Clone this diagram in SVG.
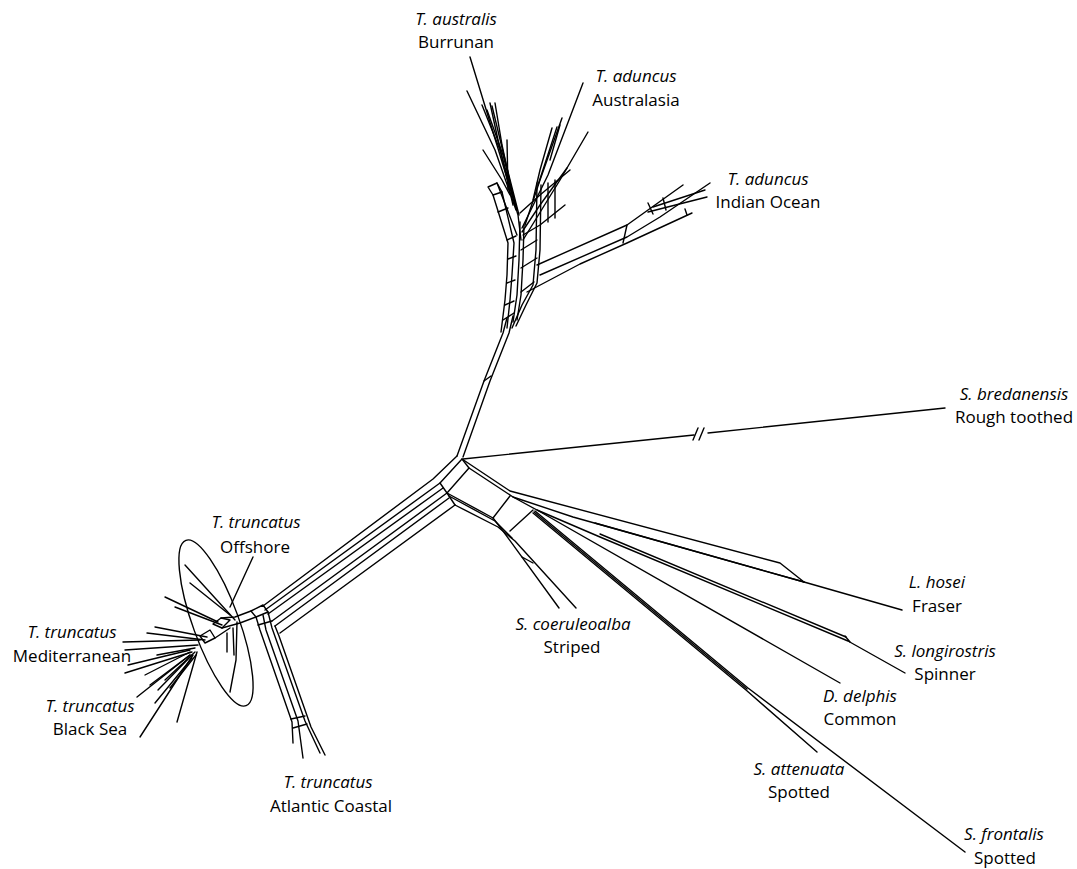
<svg xmlns="http://www.w3.org/2000/svg" width="1077" height="869" viewBox="0 0 1077 869">
<style>
.ln{fill:none;stroke:#000;stroke-width:1.4;stroke-linejoin:round;stroke-linecap:round}
.lb{font-family:"Open Sans","Liberation Sans",sans-serif;font-size:17px;fill:#000;text-anchor:middle}
.it{font-style:italic}
</style>
<rect width="1077" height="869" fill="#fff"/>
<g id="network" class="ln">
  <!-- trunk hub to upper fork -->
  <path d="M457,456 L484,381 L503,333 L507,318"/>
  <path d="M463,457 L490,381 L509,333 L513,316"/>
  <path d="M484,381 L491,376"/>
  <path d="M503,320 L514,313"/>
  <!-- left column -->
  <path d="M501,332 L505,300 L507,275 L508,243 L493,195"/>
  <path d="M507,328 L510,300 L512,275 L514,243 L502,192"/>
  <path d="M488,187 L497,183 L502,192 L493,195 Z"/>
  <path d="M505,305 L514,301 M507,283 L515,280 M508,259 L516,256 M507,240 L516,236 M498,212 L508,208"/>
  <!-- middle column -->
  <path d="M513,322 L517,295 L519,260 L520,222"/>
  <path d="M517,320 L521,295 L523,260 L524,225"/>
  <!-- right column -->
  <path d="M512,328 L522,305 L533,285 L536,250 L537,183"/>
  <path d="M516,326 L526,305 L537,283 L540,250 L541,185"/>
  <path d="M521,250 L537,240 M521,268 L537,258 M521,292 L534,282"/>
  <!-- Indian Ocean -->
  <path d="M537,265 L627,225 L683,185"/>
  <path d="M540,275 L627,237 L660,217 L710,183"/>
  <path d="M527,292 L580,264 L627,243 L692,213"/>
  <path d="M648,212 L707,197"/>
  <path d="M653,207 L705,190"/>
  <path d="M627,225 L623,243 M648,203 L653,214 M663,198 L666,210 M685,209 L687,215"/>
  <!-- Burrunan fan -->
  <path d="M470,57 L500,155 L518,215 L521,240"/>
  <path d="M467,91 L495,150 L516,210"/>
  <path d="M483,150 L502,180 L510,195"/>
  <path d="M490,103 L498,140 L513,205"/>
  <path d="M495,103 L502,145 L515,205"/>
  <path d="M482,105 L500,150 L514,200"/>
  <path d="M487,110 L503,155 L517,210"/>
  <path d="M507,140 L508,190"/>
  <path d="M492,106 L505,160 L519,215"/>
  <path d="M497,183 L517,235"/>
  <!-- Australasia fan -->
  <path d="M583,83 L548,175 L522,228"/>
  <path d="M562,118 L540,180 L525,225"/>
  <path d="M557,127 L538,185"/>
  <path d="M552,128 L540,170 L533,200"/>
  <path d="M588,132 L560,180 L523,240"/>
  <path d="M567,168 L540,205 L522,232"/>
  <path d="M570,170 L540,195 L520,213"/>
  <path d="M565,205 L540,225 L523,235"/>
  <path d="M548,183 L548,222 M555,180 L555,218 M560,125 L550,160"/>
  <!-- hub -->
  <path d="M462,459 L469,468 L447,493 L440,483 Z"/>
  <path d="M447,493 L455,505"/>
  <!-- bredanensis -->
  <path d="M463,459 L694,435"/>
  <path d="M708,433 L945,408"/>
  <path d="M693,440 L698,428 M699,440 L704,428"/>
  <!-- right branch -->
  <path d="M462,459 L510,491 L780,563 L804,582 L902,610"/>
  <path d="M469,468 L513,497 L573,517 L804,582"/>
  <path d="M595,523 L804,582"/>
  <path d="M513,497 L537,510 L600,537 L848,641 L905,673"/>
  <path d="M600,534 L846,637"/>
  <path d="M845,636 L850,642"/>
  <path d="M537,510 L840,683"/>
  <path d="M535,511 L748,688 L965,852"/>
  <path d="M533,513 L746,690 L817,752"/>
  <path d="M534,512 L747,689"/>
  <path d="M493,518 L510,496 M510,531 L533,510"/>
  <!-- striped -->
  <path d="M447,493 L493,518 L503,531 L559,608"/>
  <path d="M455,505 L498,527 L515,541 L576,608"/>
  <path d="M449,496 L495,521 L512,538"/>
  <path d="M522,557 L533,563"/>
  <!-- band to left -->
  <path d="M263,606 L433,479 L457,456"/>
  <path d="M265,610 L440,483"/>
  <path d="M268,614 L443,488"/>
  <path d="M272,621 L447,493"/>
  <path d="M275,626 L449,498"/>
  <path d="M280,633 L455,505"/>
  <!-- left junction -->
  <path d="M251,611 L263,605 L268,612 L256,617 Z"/>
  <path d="M251,611 L235,617 L221,618"/>
  <path d="M256,617 L240,623 L222,628"/>
  <!-- Atlantic Coastal -->
  <path d="M256,617 L260,630 L292,722 L293,743"/>
  <path d="M263,615 L266,630 L298,721 L303,758"/>
  <path d="M268,612 L272,628 L305,721 L320,753"/>
  <path d="M275,626 L279,636 L311,727 L325,755"/>
  <path d="M258,625 L272,621 M291,719 L305,716 M293,728 L307,724"/>
  <!-- cluster -->
  <path d="M213,624 L221,618 L230,620 L222,628 Z"/>
  <path d="M200,636 L210,630 L215,638 L205,643 Z"/>
  <path d="M215,638 L230,628"/>
  <path d="M185,565 L235,620"/>
  <path d="M190,583 L230,615"/>
  <path d="M165,597 L218,622"/>
  <path d="M175,607 L222,625"/>
  <path d="M155,627 L207,637"/>
  <path d="M147,633 L205,640"/>
  <path d="M123,642 L200,640"/>
  <path d="M125,650 L198,645"/>
  <path d="M157,655 L195,648"/>
  <path d="M128,665 L190,650"/>
  <path d="M125,673 L192,652"/>
  <path d="M137,697 L190,655"/>
  <path d="M155,703 L192,658"/>
  <path d="M140,737 L193,655"/>
  <path d="M177,722 L197,652"/>
  <path d="M158,690 L192,655"/>
  <path d="M150,685 L190,655"/>
  <path d="M145,675 L190,652"/>
  <path d="M165,680 L195,652"/>
  <path d="M170,688 L196,655"/>
  <path d="M237,622 L236,660 L230,692"/>
  <path d="M233,628 L234,655"/>
  <path d="M227,633 L227,652"/>
  <path d="M253,557 L230,607"/>
  <ellipse cx="216" cy="623" rx="88" ry="23" transform="rotate(70 216 623)"/>
</g>
<g id="labels" class="lb">
  <text x="456" y="25" class="it">T. australis</text>
  <text x="456" y="48">Burrunan</text>
  <text x="636" y="82" class="it">T. aduncus</text>
  <text x="636" y="106">Australasia</text>
  <text x="768" y="185" class="it">T. aduncus</text>
  <text x="768" y="208">Indian Ocean</text>
  <text x="1014" y="400" class="it">S. bredanensis</text>
  <text x="1014" y="423">Rough toothed</text>
  <text x="937" y="588" class="it">L. hosei</text>
  <text x="937" y="612">Fraser</text>
  <text x="945" y="657" class="it">S. longirostris</text>
  <text x="945" y="680">Spinner</text>
  <text x="860" y="702" class="it">D. delphis</text>
  <text x="860" y="725">Common</text>
  <text x="799" y="775" class="it">S. attenuata</text>
  <text x="799" y="798">Spotted</text>
  <text x="1004" y="840" class="it">S. frontalis</text>
  <text x="1005" y="864">Spotted</text>
  <text x="573" y="630" class="it">S. coeruleoalba</text>
  <text x="572" y="653">Striped</text>
  <text x="328" y="788" class="it">T. truncatus</text>
  <text x="331" y="812">Atlantic Coastal</text>
  <text x="72" y="638" class="it">T. truncatus</text>
  <text x="72" y="662">Mediterranean</text>
  <text x="90" y="712" class="it">T. truncatus</text>
  <text x="90" y="735">Black Sea</text>
  <text x="256" y="528" class="it">T. truncatus</text>
  <text x="255" y="553">Offshore</text>
</g>
</svg>
